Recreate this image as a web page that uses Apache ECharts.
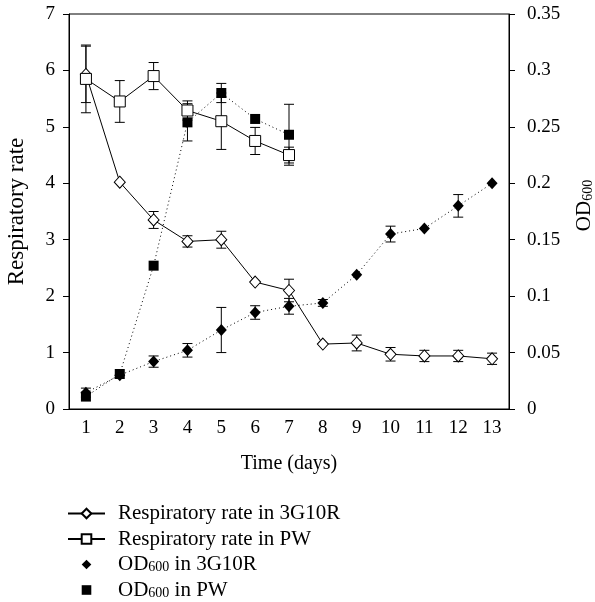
<!DOCTYPE html>
<html>
<head>
<meta charset="utf-8">
<script src="https://cdn.jsdelivr.net/npm/echarts@6/dist/echarts.min.js"></script>
<style>
  html, body { margin: 0; padding: 0; background: #fff; }
  #chart { width: 595px; height: 602px; }
</style>
</head>
<body>
<div id="chart"></div>
<script>
// Days on the x axis
const days = ['1', '2', '3', '4', '5', '6', '7', '8', '9', '10', '11', '12', '13'];

// Respiratory rate (left axis)
const rate3G10R = [5.93, 4.02, 3.35, 2.97, 3.0, 2.25, 2.1, 1.15, 1.17, 0.97, 0.94, 0.94, 0.89];
const rate3G10RErr = [0.5, 0, 0.15, 0.1, 0.15, 0, 0.2, 0, 0.14, 0.12, 0.1, 0.1, 0.1];
const ratePW = [5.85, 5.45, 5.9, 5.29, 5.1, 4.75, 4.5];
const ratePWErr = [0.6, 0.37, 0.24, 0.17, 0.5, 0.24, 0.14];

// OD600 (right axis)
const od3G10R = [0.0145, 0.03, 0.042, 0.052, 0.07, 0.0855, 0.091, 0.094, 0.119, 0.155, 0.16, 0.18, 0.2];
const od3G10RErr = [0.004, 0, 0.005, 0.006, 0.02, 0.006, 0.007, 0.003, 0, 0.007, 0, 0.01, 0];
const odPW = [0.011, 0.031, 0.127, 0.254, 0.28, 0.257, 0.243];
const odPWErr = [0, 0, 0, 0.0165, 0.0085, 0, 0.027];

const FONT = '"Liberation Serif", "DejaVu Serif", serif';

// vertical error bars with caps
const errorBars = (values, errs, yAxisIndex) => ({
  type: 'custom',
  yAxisIndex: yAxisIndex,
  silent: true,
  z: 2,
  encode: { x: 0, y: [1, 2] },
  data: values.map((v, i) => [i, v - errs[i], v + errs[i], errs[i]]),
  renderItem: (params, api) => {
    if (!api.value(3)) return null;
    const lo = api.coord([api.value(0), api.value(1)]);
    const hi = api.coord([api.value(0), api.value(2)]);
    const w = 5;
    const st = { stroke: '#000', lineWidth: 1 };
    return {
      type: 'group',
      children: [
        { type: 'line', shape: { x1: hi[0], y1: hi[1], x2: lo[0], y2: lo[1] }, style: st },
        { type: 'line', shape: { x1: hi[0] - w, y1: hi[1], x2: hi[0] + w, y2: hi[1] }, style: st },
        { type: 'line', shape: { x1: lo[0] - w, y1: lo[1], x2: lo[0] + w, y2: lo[1] }, style: st }
      ]
    };
  }
});

const chart = echarts.init(document.getElementById('chart'));

const option = {
  animation: false,
  textStyle: { fontFamily: FONT, color: '#000' },
  grid: {
    left: 69, top: 14, right: 86, bottom: 193,
    containLabel: false,
    outerBoundsMode: 'none',
    show: true, borderColor: '#000', borderWidth: 1, backgroundColor: 'transparent'
  },
  legend: {
    orient: 'vertical',
    left: 67,
    top: 503,
    height: 99,
    padding: 0,
    itemWidth: 37,
    itemHeight: 12,
    itemGap: 4.5,
    selectedMode: false,
    textStyle: {
      fontFamily: FONT, fontSize: 21, lineHeight: 20, color: '#000', padding: [0, 0, 0, 8],
      rich: {
        t: { fontFamily: FONT, fontSize: 21, lineHeight: 20, color: '#000' },
        s: { fontFamily: FONT, fontSize: 14, color: '#000', verticalAlign: 'bottom', lineHeight: 8 }
      }
    },
    formatter: name => name.indexOf('OD600') === 0
      ? '{t|OD}{s|600}{t|' + name.slice(5) + '}'
      : name,
    data: [
      { name: 'Respiratory rate in 3G10R' },
      { name: 'Respiratory rate in PW' },
      { name: 'OD600 in 3G10R', lineStyle: { opacity: 0 } },
      { name: 'OD600 in PW', lineStyle: { opacity: 0 } }
    ]
  },
  xAxis: {
    type: 'category',
    data: days,
    boundaryGap: true,
    name: 'Time (days)',
    nameLocation: 'middle',
    nameGap: 45,
    nameTextStyle: { fontFamily: FONT, fontSize: 20, color: '#000' },
    axisLine: { lineStyle: { color: '#000', width: 1 } },
    axisTick: { show: false },
    axisLabel: { fontFamily: FONT, fontSize: 19, color: '#000', margin: 10, interval: 0 }
  },
  yAxis: [
    {
      type: 'value',
      min: 0, max: 7, interval: 1,
      name: 'Respiratory rate',
      nameLocation: 'middle',
      nameRotate: 90,
      nameGap: 41,
      nameTextStyle: { fontFamily: FONT, fontSize: 23, color: '#000' },
      axisLine: { show: true, lineStyle: { color: '#000', width: 1 } },
      axisTick: { show: true, length: 6, lineStyle: { color: '#000' } },
      axisLabel: { fontFamily: FONT, fontSize: 19, color: '#000', margin: 14 },
      splitLine: { show: false }
    },
    {
      type: 'value',
      position: 'right',
      min: 0, max: 0.35, interval: 0.05,
      name: '{t|OD}{s|600}',
      nameLocation: 'middle',
      nameRotate: 90,
      nameGap: 65,
      nameTextStyle: {
        padding: [0, 0, 0, 12],
        rich: {
          t: { fontFamily: FONT, fontSize: 21, color: '#000' },
          s: { fontFamily: FONT, fontSize: 14, color: '#000', verticalAlign: 'bottom', lineHeight: 8 }
        }
      },
      axisLine: { show: true, lineStyle: { color: '#000', width: 1 } },
      axisTick: { show: true, length: 6, lineStyle: { color: '#000' } },
      axisLabel: {
        fontFamily: FONT, fontSize: 19, color: '#000', margin: 18,
        formatter: v => String(+v.toFixed(2))
      },
      splitLine: { show: false }
    }
  ],
  series: [
    errorBars(od3G10R, od3G10RErr, 1),
    errorBars(odPW, odPWErr, 1),
    errorBars(rate3G10R, rate3G10RErr, 0),
    errorBars(ratePW, ratePWErr, 0),
    {
      name: 'OD600 in 3G10R',
      type: 'line',
      yAxisIndex: 1,
      z: 3,
      data: od3G10R,
      symbol: 'diamond',
      symbolSize: [11, 12],
      showAllSymbol: true,
      lineStyle: { color: '#000', width: 1, type: [1, 3] },
      itemStyle: { color: '#000', borderColor: '#000', borderWidth: 0 }
    },
    {
      name: 'OD600 in PW',
      type: 'line',
      yAxisIndex: 1,
      z: 3,
      data: odPW,
      symbol: 'rect',
      symbolSize: 10,
      showAllSymbol: true,
      lineStyle: { color: '#000', width: 1, type: [1, 3] },
      itemStyle: { color: '#000', borderColor: '#000', borderWidth: 0 }
    },
    {
      name: 'Respiratory rate in 3G10R',
      type: 'line',
      yAxisIndex: 0,
      z: 4,
      data: rate3G10R,
      symbol: 'diamond',
      symbolSize: [11, 12],
      showAllSymbol: true,
      lineStyle: { color: '#000', width: 1 },
      itemStyle: { color: '#fff', borderColor: '#000', borderWidth: 1 }
    },
    {
      name: 'Respiratory rate in PW',
      type: 'line',
      yAxisIndex: 0,
      z: 4,
      data: ratePW,
      symbol: 'rect',
      symbolSize: 11,
      showAllSymbol: true,
      lineStyle: { color: '#000', width: 1 },
      itemStyle: { color: '#fff', borderColor: '#000', borderWidth: 1 }
    }
  ]
};

chart.setOption(option);
</script>
</body>
</html>
